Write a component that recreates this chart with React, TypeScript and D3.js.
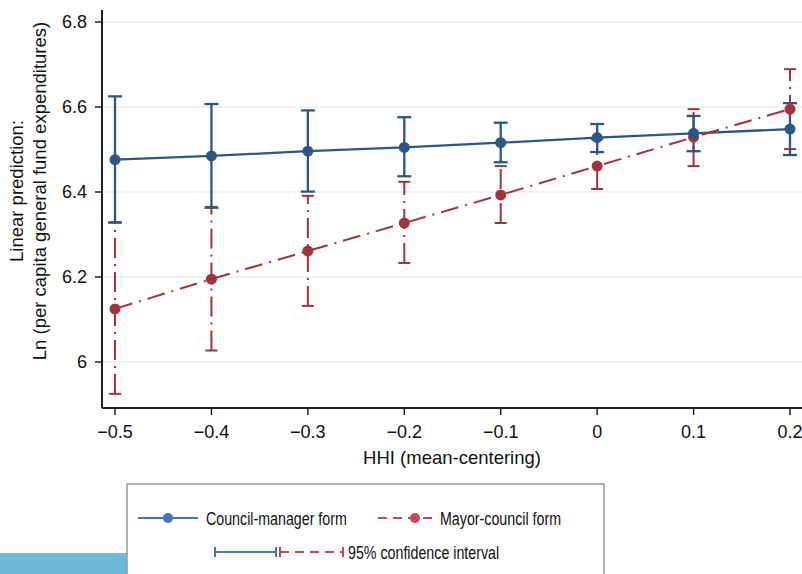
import React from "react";
import * as d3 from "d3";

const hhi = [-0.5, -0.4, -0.3, -0.2, -0.1, 0, 0.1, 0.2];
const cmEst = [6.476, 6.485, 6.496, 6.505, 6.516, 6.528, 6.538, 6.548];
const cmLo = [6.328, 6.363, 6.401, 6.437, 6.470, 6.494, 6.496, 6.487];
const cmHi = [6.625, 6.607, 6.592, 6.576, 6.563, 6.560, 6.579, 6.609];
const mcEst = [6.125, 6.195, 6.261, 6.327, 6.393, 6.461, 6.529, 6.595];
const mcLo = [5.925, 6.027, 6.132, 6.233, 6.327, 6.407, 6.461, 6.501];
const mcHi = [6.329, 6.365, 6.391, 6.424, 6.461, 6.524, 6.595, 6.689];
const yTicks = [6, 6.2, 6.4, 6.6, 6.8];
const xTicks = [-0.5, -0.4, -0.3, -0.2, -0.1, 0, 0.1, 0.2];

const BLUE = "#2a5787";
const RED = "#a5323a";
const LBLUE = "#4a74b6";
const LRED = "#c24a50";
const FONT = "'Liberation Sans', Arial, Helvetica, sans-serif";

function LegendText({ x, y, children }: { x: number; y: number; children: React.ReactNode }) {
  return (
    <text transform={`translate(${x},${y}) scale(0.77,1)`} dy="0.36em" fontSize={18.5} fontFamily={FONT} fill="#111">
      {children}
    </text>
  );
}

export default function App() {
  const W = 802, H = 574;
  const left = 102, bottom = 408;
  const x = d3.scaleLinear().domain([-0.5, 0.2]).range([115, 790]);
  const y = d3.scaleLinear().domain([6, 6.8]).range([362, 22]);
  const line = d3.line<number>().x((_, i) => x(hhi[i])).y((v) => y(v));
  const fmtX = (v: number) => (v === 0 ? "0" : (v < 0 ? "\u2212" : "") + Math.abs(v).toString());
  const fmtY = (v: number) => (v === 6 ? "6" : v.toFixed(1));

  return (
    <svg width={W} height={H} style={{ position: "absolute", left: 0, top: 0, background: "#fff" }}>
      <rect x={0} y={0} width={W} height={H} fill="#fff" />
      {yTicks.map((t) => (
        <line key={"g" + t} x1={left} x2={W} y1={y(t)} y2={y(t)} stroke="#ececec" strokeWidth={1.5} />
      ))}
      <line x1={left} x2={left} y1={10} y2={bottom} stroke="#222" strokeWidth={2} />
      <line x1={left} x2={W} y1={bottom} y2={bottom} stroke="#222" strokeWidth={2} />
      {yTicks.map((t) => (
        <g key={"yt" + t}>
          <line x1={left - 7} x2={left} y1={y(t)} y2={y(t)} stroke="#222" strokeWidth={1.5} />
          <text x={left - 15} y={y(t)} dy="0.35em" textAnchor="end" fontSize={18} fontFamily={FONT} fill="#111">
            {fmtY(t)}
          </text>
        </g>
      ))}
      {xTicks.map((t) => (
        <g key={"xt" + t}>
          <line x1={x(t)} x2={x(t)} y1={bottom} y2={bottom + 7} stroke="#222" strokeWidth={1.5} />
          <text x={x(t)} y={432} dy="0.35em" textAnchor="middle" fontSize={18} fontFamily={FONT} fill="#111">
            {fmtX(t)}
          </text>
        </g>
      ))}
      <text x={452} y={458} dy="0.35em" textAnchor="middle" fontSize={18.5} fontFamily={FONT} fill="#111">
        HHI (mean-centering)
      </text>
      <g transform="translate(17,191) rotate(-90)">
        <text x={0} y={0} dy="0.35em" textAnchor="middle" fontSize={18.5} fontFamily={FONT} fill="#111">
          Linear prediction:
        </text>
      </g>
      <g transform="translate(40,191) rotate(-90)">
        <text x={0} y={0} dy="0.35em" textAnchor="middle" fontSize={18.5} fontFamily={FONT} fill="#111">
          Ln (per capita general fund expenditures)
        </text>
      </g>

      {hhi.map((h, i) => (
        <g key={"mci" + i} stroke={RED} strokeWidth={2}>
          <line x1={x(h)} x2={x(h)} y1={y(mcLo[i])} y2={y(mcHi[i])} strokeDasharray="20 6 2 6" />
          <line x1={x(h) - 6} x2={x(h) + 6} y1={y(mcLo[i])} y2={y(mcLo[i])} />
          <line x1={x(h) - 6} x2={x(h) + 6} y1={y(mcHi[i])} y2={y(mcHi[i])} />
        </g>
      ))}
      {hhi.map((h, i) => (
        <g key={"cci" + i} stroke={BLUE} strokeWidth={2.3}>
          <line x1={x(h)} x2={x(h)} y1={y(cmLo[i])} y2={y(cmHi[i])} />
          <line x1={x(h) - 7} x2={x(h) + 7} y1={y(cmLo[i])} y2={y(cmLo[i])} />
          <line x1={x(h) - 7} x2={x(h) + 7} y1={y(cmHi[i])} y2={y(cmHi[i])} />
        </g>
      ))}
      <path d={line(cmEst) || ""} fill="none" stroke={BLUE} strokeWidth={2.3} />
      <path d={line(mcEst) || ""} fill="none" stroke={RED} strokeWidth={2} strokeDasharray="18 7 2 7" />
      {hhi.map((h, i) => (
        <circle key={"mp" + i} cx={x(h)} cy={y(mcEst[i])} r={5.5} fill={RED} />
      ))}
      {hhi.map((h, i) => (
        <circle key={"cp" + i} cx={x(h)} cy={y(cmEst[i])} r={5.5} fill={BLUE} />
      ))}

      <rect x={0} y={553} width={127} height={21} fill="#6db9d8" />
      <rect x={127} y={484} width={477} height={100} fill="#fff" stroke="#999" strokeWidth={1.5} />
      <line x1={138} x2={198} y1={518} y2={518} stroke={LBLUE} strokeWidth={2} />
      <circle cx={168} cy={518} r={5} fill={LBLUE} />
      <LegendText x={206} y={518}>Council-manager form</LegendText>
      <line x1={378} x2={435} y1={518} y2={518} stroke={LRED} strokeWidth={2} strokeDasharray="9 6" />
      <circle cx={415} cy={518} r={5} fill={LRED} />
      <LegendText x={440} y={518}>Mayor-council form</LegendText>
      <g stroke={LBLUE} strokeWidth={2}>
        <line x1={215} x2={276} y1={552} y2={552} />
        <line x1={215} x2={215} y1={547} y2={557} />
        <line x1={276} x2={276} y1={547} y2={557} />
      </g>
      <g stroke={LRED} strokeWidth={2}>
        <line x1={280} x2={343} y1={552} y2={552} strokeDasharray="9 6" />
        <line x1={280} x2={280} y1={547} y2={557} />
        <line x1={343} x2={343} y1={547} y2={557} />
      </g>
      <LegendText x={348} y={552}>95% confidence interval</LegendText>
    </svg>
  );
}
